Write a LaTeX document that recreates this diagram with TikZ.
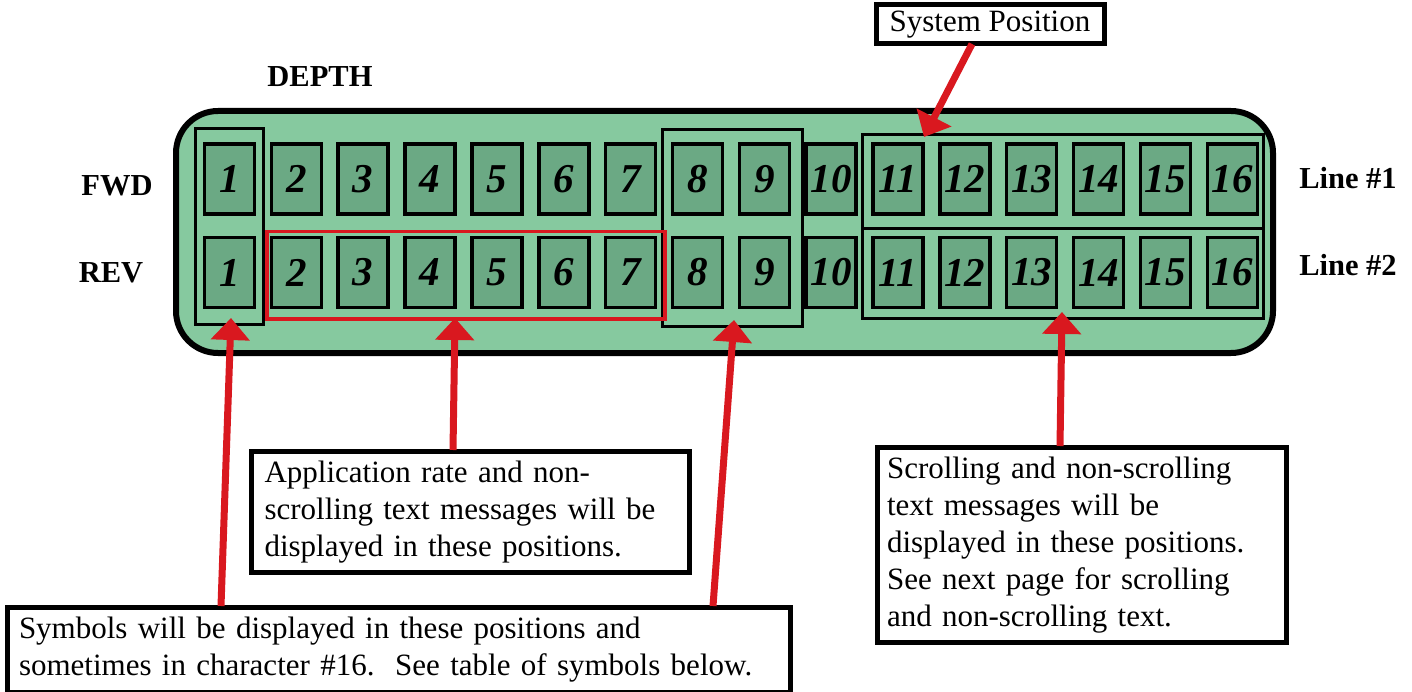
\documentclass[tikz,border=0pt]{standalone}
\usepackage{fontspec}
\setmainfont{Liberation Serif}
\usetikzlibrary{arrows.meta}
\definecolor{panelgreen}{HTML}{86C99F}
\definecolor{cellgreen}{HTML}{6BA984}
\definecolor{arrowred}{HTML}{D9181F}
\tikzset{
  cellbox/.style={draw=black, line width=3.5pt, fill=cellgreen, minimum width=50pt, minimum height=70pt, inner sep=0pt, font=\fontsize{41}{41}\selectfont\bfseries\itshape},
  grpbox/.style={draw=black, line width=3pt, minimum width=#1, inner sep=0pt, anchor=north west},
  sidelabel/.style={font=\fontsize{30.5}{32}\selectfont\bfseries, inner sep=0pt},
  msgbox/.style={draw=black, line width=5pt, fill=white, inner sep=0pt, anchor=north west, align=left, font=\fontsize{31}{37}\selectfont},
  redarrow/.style={draw=arrowred, line width=7pt, -{Triangle[width=38pt,length=22pt]}}
}
\begin{document}
\begin{tikzpicture}[x=1pt,y=-1pt]
\useasboundingbox (0,0) rectangle (1412,692);
% panel
\draw[line width=6pt, fill=panelgreen, rounded corners=42pt] (176,111) rectangle (1273,353);
% cells
\foreach \i in {1,...,16}{
  \node[cellbox] (t\i) at ({229.5+(\i-1)*66.85},179) {\i};
  \node[cellbox] (b\i) at ({229.5+(\i-1)*66.85},272.5) {\i};
}
% group boxes
\node[grpbox=68pt, minimum height=196pt] (g1) at (194,127) {};
\node[grpbox=140pt, minimum height=197pt] (g89) at (661,128) {};
\node[grpbox=401pt, minimum height=94pt] (gtop) at (861,133) {};
\node[grpbox=401pt, minimum height=90pt] (gbot) at (861,227) {};
\node[grpbox=398pt, minimum height=87pt, draw=arrowred, line width=3.5pt] (gred) at (265,230) {};
% labels
\node[sidelabel] (depth) at (320,77) {DEPTH};
\node[sidelabel] (fwd) at (117,186) {FWD};
\node[sidelabel] (rev) at (111,273) {REV};
\node[sidelabel] (l1) at (1348,178) {Line \#1};
\node[sidelabel] (l2) at (1348,265) {Line \#2};
% message boxes
\node[msgbox, minimum width=228pt, minimum height=39pt, align=center, anchor=center] (sys) at (990,24.5) {System Position};
\node[msgbox, minimum width=438pt, minimum height=121pt, text width=412pt] (app) at (249,449) {Application rate and non-\\scrolling text messages will be\\displayed in these positions.};
\node[msgbox, minimum width=783pt, minimum height=85pt, text width=760pt] (symb) at (5,605) {Symbols will be displayed in these positions and\\sometimes in character \#16.\ \ See table of symbols below.};
\node[msgbox, minimum width=409pt, minimum height=195pt, text width=390pt] (scr) at (875,445) {Scrolling and non-scrolling\\text messages will be\\displayed in these positions.\\See next page for scrolling\\and non-scrolling text.};
% arrow endpoints
\coordinate (s1) at (221,606);
\coordinate (e1) at (231,318);
\coordinate (s2) at (453,450);
\coordinate (e2) at (455,318);
\coordinate (s3) at (713,606);
\coordinate (e3) at (734,320);
\coordinate (s4) at (1060,446);
\coordinate (e4) at (1062,312);
\coordinate (s5) at (972,44);
\coordinate (e5) at (924,137);
\draw[redarrow] (s1) -- (e1);
\draw[redarrow] (s2) -- (e2);
\draw[redarrow] (s3) -- (e3);
\draw[redarrow] (s4) -- (e4);
\draw[redarrow] (s5) -- (e5);
\end{tikzpicture}
\end{document}
